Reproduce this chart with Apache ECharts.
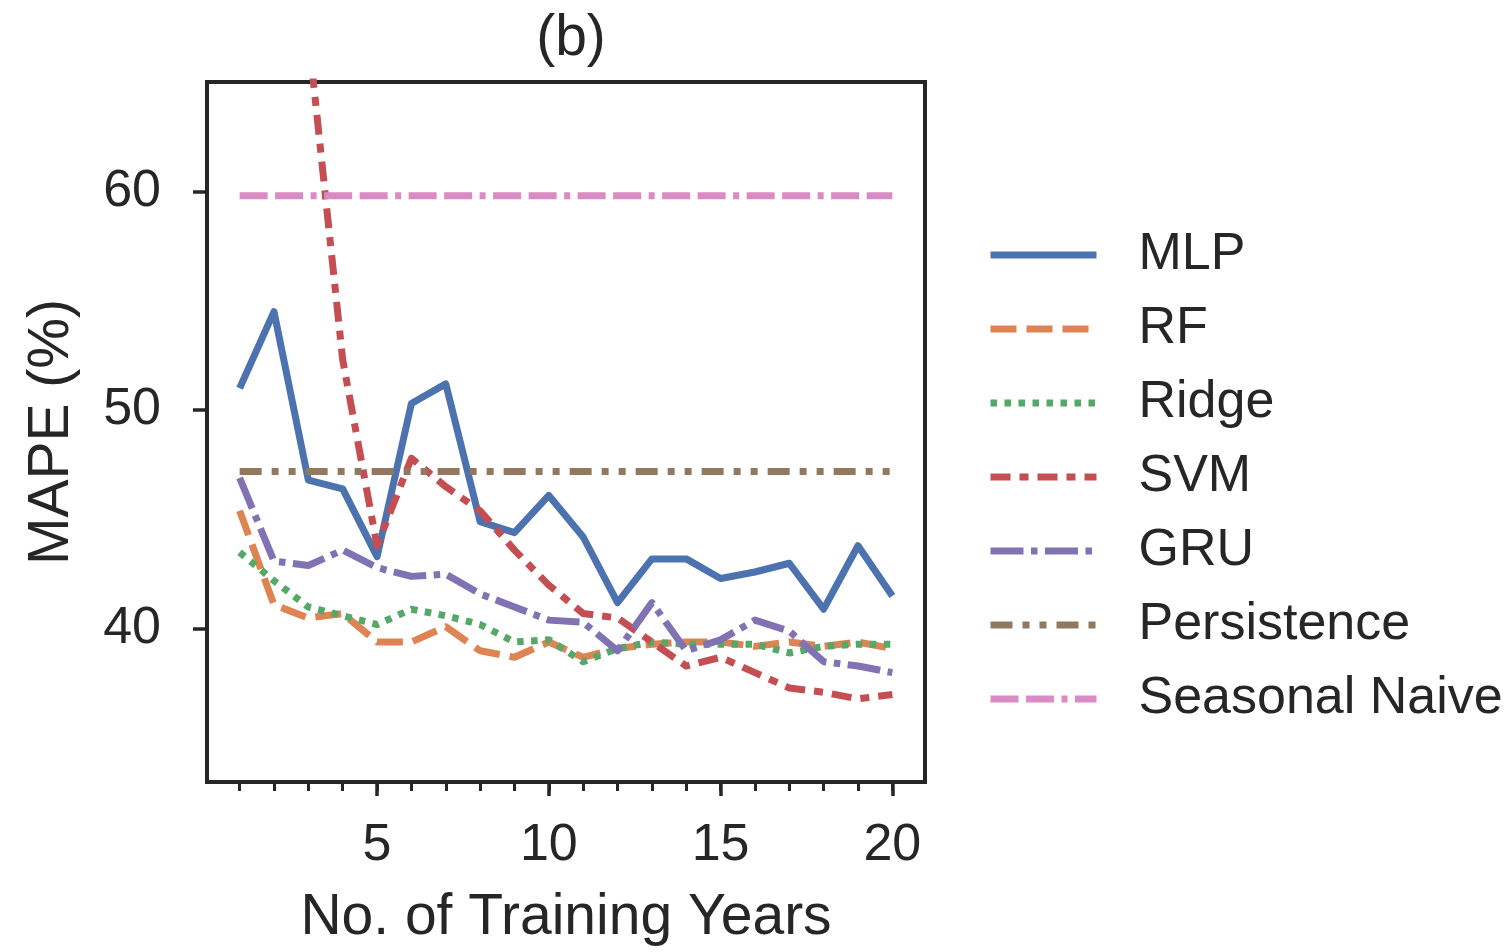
<!DOCTYPE html>
<html>
<head>
<meta charset="utf-8">
<script src="https://cdn.jsdelivr.net/npm/echarts@6/dist/echarts.min.js"></script>
<style>
  html, body { margin: 0; padding: 0; background: #ffffff; }
  #chart { width: 1511px; height: 952px; }
</style>
</head>
<body>
<div id="chart"></div>
<script>
// Training-window length (years) on the x axis
const years = [1, 2, 3, 4, 5, 6, 7, 8, 9, 10, 11, 12, 13, 14, 15, 16, 17, 18, 19, 20];

// MAPE (%) per model
const mlp   = [51.0, 54.5, 46.8, 46.4, 43.3, 50.3, 51.2, 44.9, 44.4, 46.1, 44.2, 41.2, 43.2, 43.2, 42.3, 42.6, 43.0, 40.9, 43.8, 41.5];
const rf    = [45.4, 41.1, 40.5, 40.7, 39.4, 39.4, 40.1, 39.0, 38.7, 39.4, 38.7, 39.1, 39.3, 39.4, 39.4, 39.2, 39.4, 39.2, 39.4, 39.1];
const ridge = [43.5, 42.2, 41.0, 40.6, 40.2, 40.9, 40.6, 40.2, 39.4, 39.5, 38.5, 39.1, 39.4, 39.3, 39.3, 39.3, 38.9, 39.2, 39.3, 39.3];
const svm   = [130.0, 90.0, 67.2, 52.3, 43.8, 47.8, 46.5, 45.4, 43.6, 42.0, 40.7, 40.5, 39.4, 38.3, 38.7, 38.0, 37.3, 37.1, 36.8, 37.0];
const gru   = [46.9, 43.1, 42.9, 43.6, 42.8, 42.4, 42.5, 41.6, 41.0, 40.4, 40.3, 39.0, 41.2, 39.0, 39.5, 40.4, 39.9, 38.5, 38.3, 38.0];

// Baselines that do not depend on the training window
const persistence = 47.2;
const seasonalNaive = 59.8;

// Axis ticks
const yTicks = [40, 50, 60];
const xMajorTicks = [5, 10, 15, 20];

const INK = '#262626';
const FONT = '"Liberation Sans", Arial, Helvetica, sans-serif';
const LW = 7;

function pairs(vals) { return years.map((x, i) => [x, vals[i]]); }
function flat(v) { return [[years[0], v], [years[years.length - 1], v]]; }

function lineSeries(name, data, color, dash) {
  return {
    name: name,
    type: 'line',
    data: data,
    symbol: 'none',
    showSymbol: false,
    clip: true,
    animation: false,
    emphasis: { disabled: true },
    itemStyle: { color: color },
    lineStyle: { color: color, width: LW, type: dash, cap: 'butt', join: 'round' }
  };
}

const chart = echarts.init(document.getElementById('chart'), null, { renderer: 'canvas' });

chart.setOption({
  backgroundColor: '#ffffff',
  animation: false,
  textStyle: { fontFamily: FONT, color: INK },
  title: {
    text: '(b)',
    left: 566,
    textAlign: 'center',
    top: 6,
    textStyle: { fontFamily: FONT, fontSize: 57, fontWeight: 'normal', color: INK }
  },
  grid: {
    left: 207, right: 586, top: 82, bottom: 170,
    show: true, borderColor: INK, borderWidth: 4, backgroundColor: 'transparent'
  },
  legend: {
    orient: 'vertical',
    left: 982,
    top: 224,
    itemWidth: 106,
    itemHeight: 20,
    itemGap: 22,
    itemStyle: { opacity: 0 },
    lineStyle: { width: LW },
    textStyle: { fontFamily: FONT, fontSize: 52, color: INK, padding: [0, 0, 0, 37] },
    data: ['MLP', 'RF', 'Ridge', 'SVM', 'GRU', 'Persistence', 'Seasonal Naive']
  },
  xAxis: [
    {
      type: 'value', min: 0.05, max: 20.95, position: 'bottom',
      name: 'No. of Training Years', nameLocation: 'middle', nameGap: 108,
      nameTextStyle: { fontFamily: FONT, fontSize: 57, color: INK },
      axisLine: { show: true, lineStyle: { color: INK, width: 4 } },
      axisTick: { show: true, length: 14, lineStyle: { color: INK, width: 3.5 }, customValues: xMajorTicks },
      axisLabel: { customValues: xMajorTicks, fontFamily: FONT, fontSize: 52, color: INK, margin: 38 },
      splitLine: { show: false }
    },
    {
      type: 'value', min: 0.05, max: 20.95, position: 'bottom',
      axisLine: { show: false },
      axisTick: { show: true, length: 9, lineStyle: { color: INK, width: 3 }, customValues: years },
      axisLabel: { show: false },
      splitLine: { show: false }
    }
  ],
  yAxis: {
    type: 'value', min: 33, max: 65,
    name: 'MAPE (%)', nameLocation: 'middle', nameGap: 126, nameRotate: 90,
    nameTextStyle: { fontFamily: FONT, fontSize: 57, color: INK },
    axisLine: { show: true, lineStyle: { color: INK, width: 4 } },
    axisTick: { show: true, length: 14, lineStyle: { color: INK, width: 3.5 }, customValues: yTicks },
    axisLabel: { customValues: yTicks, fontFamily: FONT, fontSize: 52, color: INK, margin: 46 },
    splitLine: { show: false }
  },
  series: [
    lineSeries('MLP', pairs(mlp), '#4C72B0', 'solid'),
    lineSeries('RF', pairs(rf), '#DD8452', [26, 10]),
    lineSeries('Ridge', pairs(ridge), '#55A868', [6.5, 7.5]),
    lineSeries('SVM', pairs(svm), '#C44E52', [20, 9, 9, 9]),
    lineSeries('GRU', pairs(gru), '#8172B3', [33, 7.5, 6.5, 7.5]),
    lineSeries('Persistence', flat(persistence), '#937860', [22, 10, 7, 10, 7, 10]),
    lineSeries('Seasonal Naive', flat(seasonalNaive), '#DA8BC3', [28, 7.5, 28, 7.5, 6, 7.5])
  ]
});
</script>
</body>
</html>
